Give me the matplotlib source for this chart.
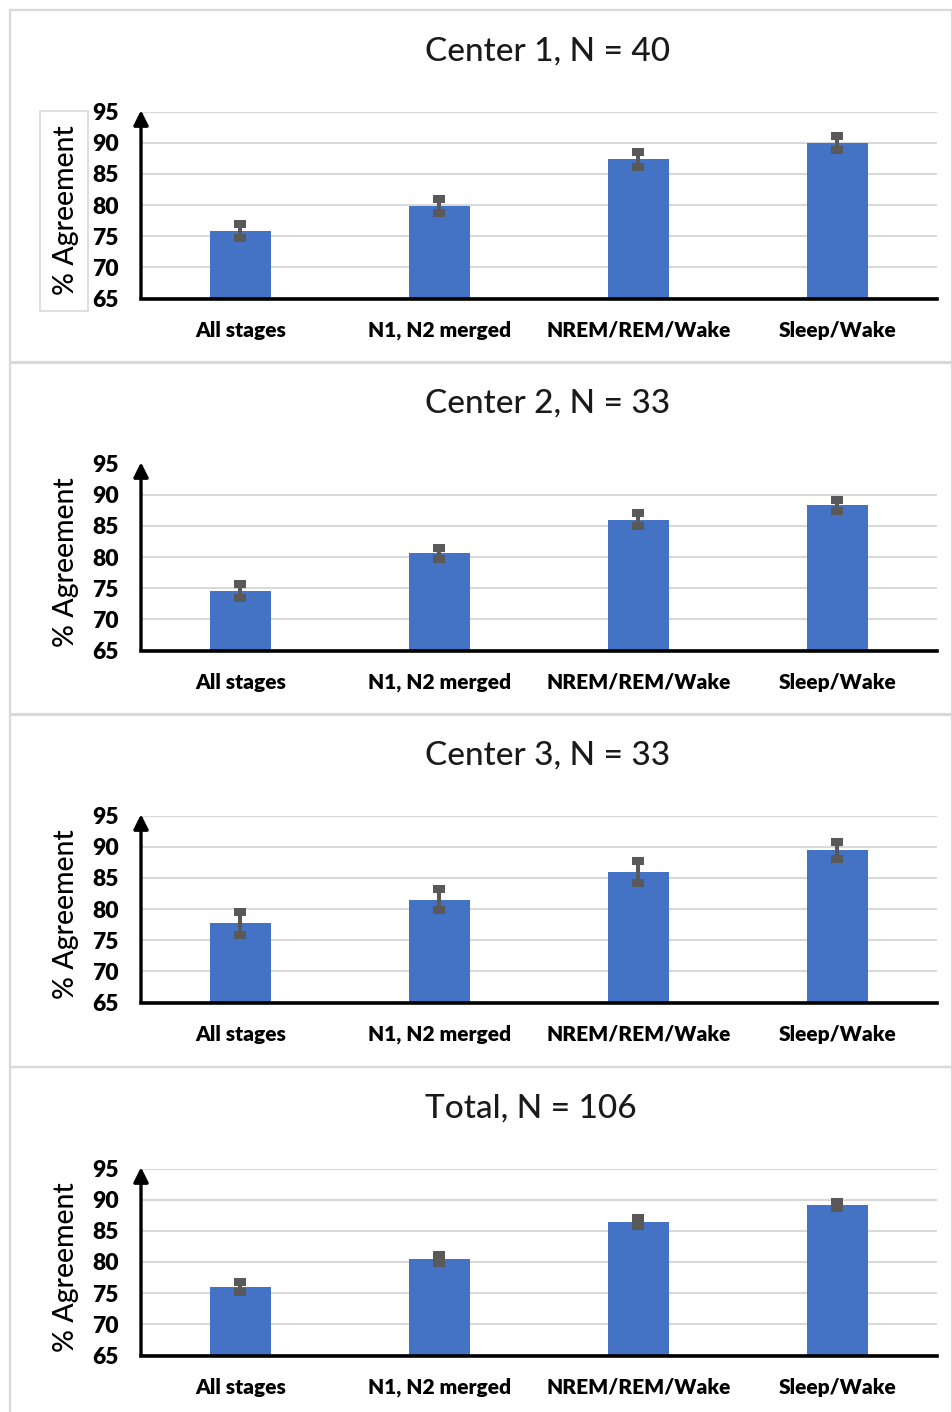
import numpy as np
import matplotlib.pyplot as plt
from matplotlib.patches import Rectangle

plt.rcParams['font.family'] = ['Lato', 'DejaVu Sans']

categories = ['All stages', 'N1, N2 merged', 'NREM/REM/Wake', 'Sleep/Wake']
titles = ['Center 1, N = 40', 'Center 2, N = 33', 'Center 3, N = 33', 'Total, N = 106']

center1 = [75.8, 79.8, 87.3, 89.9]
center1_err = [1.1, 1.1, 1.2, 1.1]
center2 = [74.6, 80.6, 86.0, 88.3]
center2_err = [1.1, 0.9, 1.0, 0.9]
center3 = [77.7, 81.5, 85.9, 89.4]
center3_err = [1.8, 1.7, 1.8, 1.4]
total = [76.0, 80.5, 86.4, 89.1]
total_err = [0.8, 0.7, 0.7, 0.5]

y_ticks = [65, 70, 75, 80, 85, 90, 95]

panels = [
    (titles[0], center1, center1_err),
    (titles[1], center2, center2_err),
    (titles[2], center3, center3_err),
    (titles[3], total, total_err),
]

W, H = 953, 1412
fig = plt.figure(figsize=(W / 100, H / 100), dpi=100)


def px_rect(x0, y0, x1, y1):
    return [x0 / W, 1 - y1 / H, (x1 - x0) / W, (y1 - y0) / H]


panel_tops = [10, 362, 714, 1067]
panel_h = 352.5
bar_color = '#4472C4'
err_color = '#595959'
grid_color = '#d9d9d9'

for i, (title, vals, errs) in enumerate(panels):
    top = panel_tops[i]

    # light grey frame round each chart
    fig.patches.append(Rectangle((10 / W, 1 - (top + panel_h) / H), (952 - 10) / W, panel_h / H,
                                 transform=fig.transFigure, fill=False, ec=grid_color, lw=1.6))

    ax = fig.add_axes(px_rect(141, top + 101.5, 937, top + 288.5))
    x = np.arange(len(categories))
    ax.bar(x, vals, width=0.31, color=bar_color, zorder=2)
    ax.errorbar(x, vals, yerr=errs, fmt='none', ecolor=err_color, elinewidth=2.9,
                capsize=4.3, capthick=5.8, zorder=3)

    ax.set_xlim(-0.5, 3.5)
    ax.set_ylim(65, 95)
    ax.set_yticks(y_ticks)
    ax.set_xticks(x)
    ax.set_xticklabels(categories, fontsize=15, fontweight='heavy')
    ax.set_yticklabels([str(t) for t in y_ticks], fontsize=16.5, fontweight='heavy')
    ax.tick_params(axis='x', length=0, pad=16)
    ax.tick_params(axis='y', length=0, pad=16)
    ax.grid(axis='y', color=grid_color, lw=1.5, zorder=0)
    ax.set_axisbelow(True)

    for s in ['top', 'right', 'left']:
        ax.spines[s].set_visible(False)
    ax.spines['bottom'].set_linewidth(2.6)
    ax.spines['bottom'].set_color('black')
    ax.spines['bottom'].set_zorder(4)

    ax.annotate('', xy=(-0.5, 95.2), xytext=(-0.5, 65), xycoords='data',
                arrowprops=dict(arrowstyle='-|>', lw=2.4, color='black', mutation_scale=22,
                                shrinkA=0, shrinkB=0),
                annotation_clip=False, zorder=5)

    ax.text((66 - 141) / 796, 0.475, '% Agreement', transform=ax.transAxes, rotation=90,
            ha='center', va='center', fontsize=20.5, fontweight='medium', color='black')

    fig.text(425 / W, 1 - (top + 41) / H, title, ha='left', va='center',
             fontsize=24, fontweight='medium', color='#1a1a1a')

# box round the axis title of the first chart
fig.patches.append(Rectangle((40 / W, 1 - 311 / H), 48 / W, 200 / H, transform=fig.transFigure,
                             fill=False, ec=grid_color, lw=1.2))

fig.savefig('out.png', dpi=100)
